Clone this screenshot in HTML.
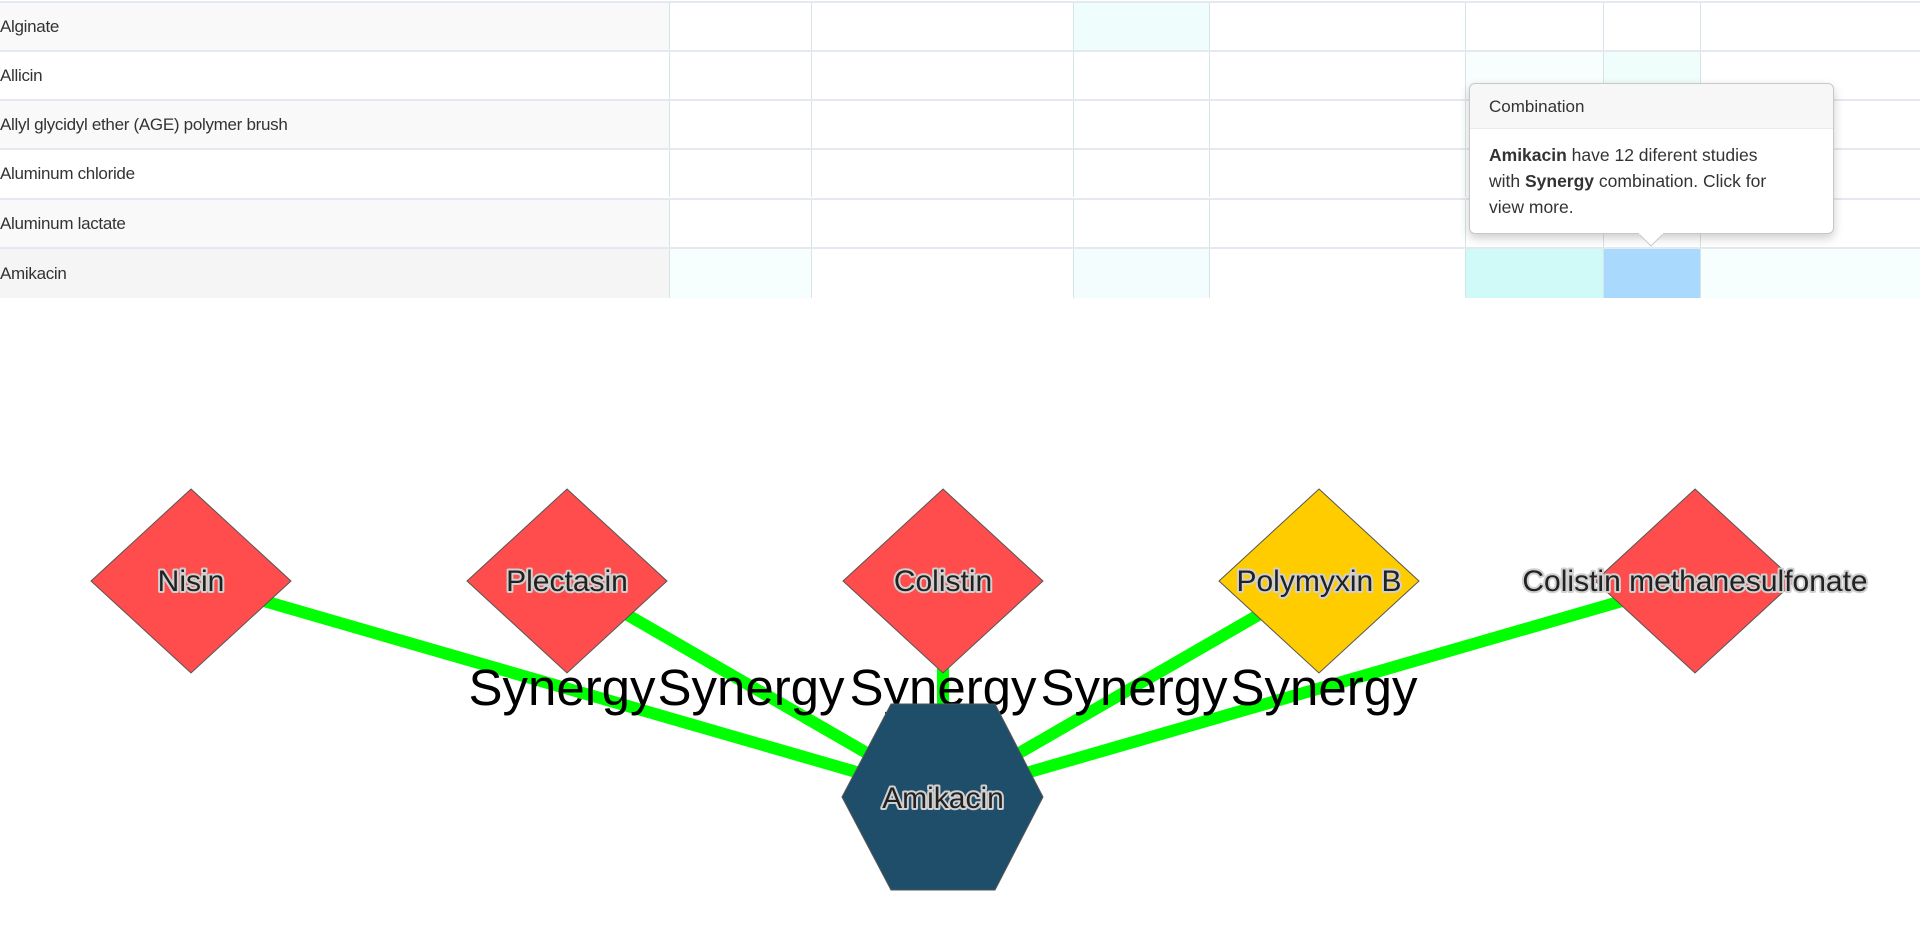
<!DOCTYPE html>
<html><head><meta charset="utf-8"><style>
body{margin:0;width:1920px;height:930px;background:#fff;overflow:hidden;font-family:"Liberation Sans",sans-serif;position:relative}
.row{position:absolute;left:0;width:1920px;height:49px;border-top:2px solid #e3e9ee;box-sizing:border-box}
.lab{position:absolute;left:0;top:0;width:669px;height:47px;line-height:47px;font-size:17px;color:#333;letter-spacing:-0.3px}
.c{position:absolute;top:0;height:47px;border-left:1px solid #d6e4ea}
.tip{position:absolute;left:1469px;top:83px;width:365px;height:151px;background:#fff;border:1px solid #c8c8c8;border-radius:6px;box-shadow:0 4px 10px rgba(0,0,0,.2);box-sizing:border-box}
.th{height:44px;background:#f7f7f7;border-bottom:1px solid #ebebeb;border-radius:6px 6px 0 0;font-size:17px;color:#333;line-height:46px;padding-left:19px}
.tb{padding:13px 10px 10px 19px;font-size:17.5px;color:#333;line-height:26px;white-space:nowrap}
</style></head><body>
<div class="row" style="top:1px;background:#fff"><div class="lab" style="background:#f9f9f9">Alginate</div>
<div class="c" style="left:669px;width:142px"></div><div class="c" style="left:811px;width:262px"></div><div class="c" style="left:1073px;width:136px;background:#effdfd"></div><div class="c" style="left:1209px;width:256px"></div><div class="c" style="left:1465px;width:138px"></div><div class="c" style="left:1603px;width:97px"></div><div class="c" style="left:1700px;width:220px"></div></div>
<div class="row" style="top:50px"><div class="lab">Allicin</div>
<div class="c" style="left:669px;width:142px"></div><div class="c" style="left:811px;width:262px"></div><div class="c" style="left:1073px;width:136px"></div><div class="c" style="left:1209px;width:256px"></div><div class="c" style="left:1465px;width:138px;background:#f8fefe"></div><div class="c" style="left:1603px;width:97px;background:#effdfb"></div><div class="c" style="left:1700px;width:220px"></div></div>
<div class="row" style="top:99px"><div class="lab" style="background:#f9f9f9">Allyl glycidyl ether (AGE) polymer brush</div>
<div class="c" style="left:669px;width:142px"></div><div class="c" style="left:811px;width:262px"></div><div class="c" style="left:1073px;width:136px"></div><div class="c" style="left:1209px;width:256px"></div><div class="c" style="left:1465px;width:138px"></div><div class="c" style="left:1603px;width:97px"></div><div class="c" style="left:1700px;width:220px"></div></div>
<div class="row" style="top:148px"><div class="lab">Aluminum chloride</div>
<div class="c" style="left:669px;width:142px"></div><div class="c" style="left:811px;width:262px"></div><div class="c" style="left:1073px;width:136px"></div><div class="c" style="left:1209px;width:256px"></div><div class="c" style="left:1465px;width:138px"></div><div class="c" style="left:1603px;width:97px"></div><div class="c" style="left:1700px;width:220px"></div></div>
<div class="row" style="top:198px"><div class="lab" style="background:#f9f9f9">Aluminum lactate</div>
<div class="c" style="left:669px;width:142px"></div><div class="c" style="left:811px;width:262px"></div><div class="c" style="left:1073px;width:136px"></div><div class="c" style="left:1209px;width:256px"></div><div class="c" style="left:1465px;width:138px"></div><div class="c" style="left:1603px;width:97px"></div><div class="c" style="left:1700px;width:220px"></div></div>
<div class="row" style="top:247px;height:51px"><div class="lab" style="background:#f5f5f5;height:49px;line-height:49px">Amikacin</div>
<div class="c" style="height:49px;left:669px;width:142px;background:#f7fefe"></div><div class="c" style="height:49px;left:811px;width:262px"></div><div class="c" style="height:49px;left:1073px;width:136px;background:#f3fdfd"></div><div class="c" style="height:49px;left:1209px;width:256px"></div><div class="c" style="height:49px;left:1465px;width:138px;background:#d0faf7"></div><div class="c" style="height:49px;left:1603px;width:97px;background:#a9dafe"></div><div class="c" style="height:49px;left:1700px;width:220px;background:#f7fefe"></div></div>
<div class="tip"><div class="th">Combination</div><div class="tb"><b>Amikacin</b> have 12 diferent studies<br>with <b>Synergy</b> combination. Click for<br>view more.</div></div>
<svg style="position:absolute;left:1638px;top:233px" width="28" height="14"><polygon points="0,0 26,0 13,13" fill="#fff" stroke="#c8c8c8"/><line x1="1" y1="0.5" x2="25" y2="0.5" stroke="#fff" stroke-width="2"/></svg>
<svg style="position:absolute;left:0;top:0" width="1920" height="930">
<g stroke="#00ff00" stroke-width="12">
<line x1="191" y1="580" x2="943" y2="797"/><line x1="567" y1="580" x2="943" y2="797"/><line x1="943" y1="580" x2="943" y2="797"/><line x1="1319" y1="580" x2="943" y2="797"/><line x1="1695" y1="580" x2="943" y2="797"/>
</g>
<g stroke="#555" stroke-width="1">
<polygon points="191,489 291,581 191,673 91,581" fill="#ff4d4d"/>
<polygon points="567,489 667,581 567,673 467,581" fill="#ff4d4d"/>
<polygon points="943,489 1043,581 943,673 843,581" fill="#ff4d4d"/>
<polygon points="1319,489 1419,581 1319,673 1219,581" fill="#ffcc00"/>
<polygon points="1695,489 1795,581 1695,673 1595,581" fill="#ff4d4d"/>
</g>
<g font-family="Liberation Sans, sans-serif" font-size="51" fill="#000" text-anchor="middle">
<text x="562" y="705">Synergy</text><text x="751" y="705">Synergy</text><text x="943" y="705">Synergy</text><text x="1134" y="705">Synergy</text><text x="1324" y="705">Synergy</text>
</g>
<polygon points="891,704 995,704 1043,797 995,890 891,890 842,797" fill="#1f4e6b" stroke="#555" stroke-width="1"/>
<g font-family="Liberation Sans, sans-serif" font-size="30" fill="#222" text-anchor="middle" stroke="#d0d0d0" stroke-width="4" paint-order="stroke" stroke-linejoin="round">
<text x="191" y="591">Nisin</text><text x="567" y="591">Plectasin</text><text x="943" y="591">Colistin</text><text x="1319" y="591">Polymyxin B</text><text x="1695" y="591">Colistin methanesulfonate</text><text x="943" y="808">Amikacin</text>
</g>
</svg>
</body></html>
